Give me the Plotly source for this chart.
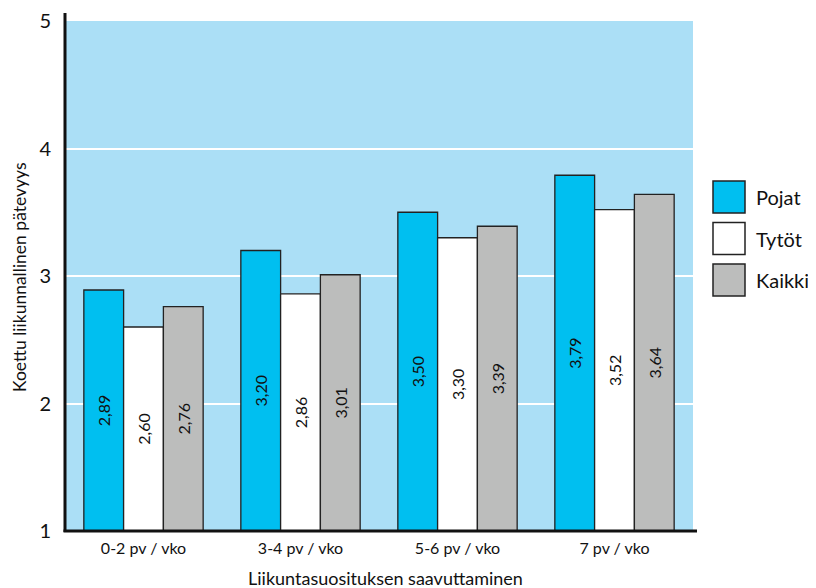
import plotly.graph_objects as go

categories = ["0-2 pv / vko", "3-4 pv / vko", "5-6 pv / vko", "7 pv / vko"]
series_names = ["Pojat", "Tytöt", "Kaikki"]
pojat = [2.89, 3.20, 3.50, 3.79]
tytot = [2.60, 2.86, 3.30, 3.52]
kaikki = [2.76, 3.01, 3.39, 3.64]
series_values = [pojat, tytot, kaikki]
series_colors = ["#00bff0", "#ffffff", "#bcbdbc"]
y_ticks = [1, 2, 3, 4, 5]
y_base = 1
x_title = "Liikuntasuosituksen saavuttaminen"
y_title = "Koettu liikunnallinen pätevyys"

FONT = "Lato, 'Open Sans', sans-serif"
OFF = 8  # page body margin
W, H = 816 - OFF, 588 - OFF
L, R, T, B = 65 - OFF, 123, 21 - OFF, 57
pw, ph = W - L - R, H - T - B

def px2x(px):
    return (px - OFF - L) / pw

def py2y(py):
    return (H - B - (py - OFF)) / ph

fig = go.Figure()
for name, vals, col in zip(series_names, series_values, series_colors):
    fig.add_trace(go.Bar(
        x=categories, y=[v - y_base for v in vals], base=y_base, name=name,
        customdata=vals,
        marker=dict(color=col, line=dict(color="#222222", width=1.3)),
        texttemplate="%{customdata:.2f}", textposition="inside",
        insidetextanchor="middle", textangle=-90,
        textfont=dict(family=FONT, size=16, color="#111111"),
        showlegend=False,
    ))

shapes = []
annotations = []
# custom legend
for i, (name, col) in enumerate(zip(series_names, series_colors)):
    cy = 197 + i * 41.5
    shapes.append(dict(type="rect", xref="paper", yref="paper",
                       x0=px2x(713), x1=px2x(745), y0=py2y(cy - 16), y1=py2y(cy + 16),
                       fillcolor=col, line=dict(color="#222222", width=1.5)))
    annotations.append(dict(xref="paper", yref="paper", x=px2x(754), y=py2y(cy),
                            text=name, showarrow=False, xanchor="left", yanchor="middle",
                            font=dict(family=FONT, size=20, color="#111111")))
# axis lines
shapes.append(dict(type="line", xref="paper", yref="paper", x0=0, x1=0,
                   y0=py2y(532), y1=py2y(13), line=dict(color="#111111", width=3)))
shapes.append(dict(type="line", xref="paper", yref="paper", x0=px2x(63.5), x1=px2x(697),
                   y0=0, y1=0, line=dict(color="#111111", width=3)))

annotations.append(dict(xref="paper", yref="paper", x=px2x(385), y=py2y(578),
                        text=x_title, showarrow=False, xanchor="center", yanchor="middle",
                        font=dict(family=FONT, size=18, color="#111111")))
annotations.append(dict(xref="paper", yref="paper", x=px2x(19), y=py2y(277),
                        text=y_title, showarrow=False, textangle=-90,
                        xanchor="center", yanchor="middle",
                        font=dict(family=FONT, size=17.5, color="#111111")))

fig.update_layout(
    width=W, height=H,
    margin=dict(l=L, r=R, t=T, b=B, autoexpand=False),
    paper_bgcolor="white", plot_bgcolor="#abdff6",
    barmode="group", bargap=0.24, bargroupgap=0,
    separators=", ",
    font=dict(family=FONT, color="#111111"),
    shapes=shapes, annotations=annotations,
    xaxis=dict(showgrid=False, showline=False, ticks="", ticklabelstandoff=6,
               tickfont=dict(family=FONT, size=16, color="#111111")),
    yaxis=dict(range=[1, 5], tickvals=y_ticks, showgrid=True, gridcolor="white",
               gridwidth=2, showline=False, zeroline=False, ticks="",
               ticklabelstandoff=13,
               tickfont=dict(family=FONT, size=20, color="#111111")),
)

fig.write_html("out.html")
